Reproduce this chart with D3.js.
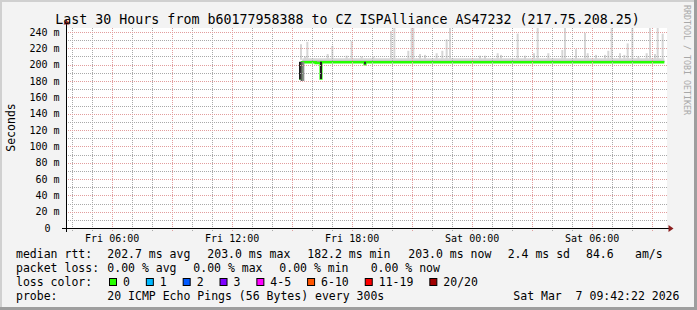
<!DOCTYPE html>
<html>
<head>
<meta charset="utf-8">
<script src="https://cdn.jsdelivr.net/npm/d3@7/dist/d3.min.js"></script>
<style>
html, body { margin: 0; padding: 0; background: #f3f3f3; }
svg { display: block; }
text { font-family: "DejaVu Sans Mono", monospace; }
</style>
</head>
<body>
<svg id="chart" width="697" height="310"></svg>
<script>
// SmokePing graph: 30 hours, median rtt + smoke
const titleText = "Last 30 Hours from b60177958388 to CZ ISPAlliance AS47232 (217.75.208.25)";
const windowStart = "2026-03-06 03:46";
const windowEnd = "2026-03-07 09:46";
const dataStart = "2026-03-06 15:32";
const dataEnd = "2026-03-07 09:38";

const xTickTimes = ["2026-03-06 06:00", "2026-03-06 12:00", "2026-03-06 18:00", "2026-03-07 00:00", "2026-03-07 06:00"];
const yTickValues = [0, 20, 40, 60, 80, 100, 120, 140, 160, 180, 200, 220, 240];

// median rtt (ms), step points
const medianTimes = ["2026-03-06 15:22", "2026-03-06 15:31", "2026-03-06 16:12", "2026-03-06 16:27", "2026-03-06 16:29",
  "2026-03-06 18:39", "2026-03-06 18:41", "2026-03-07 09:38"];
const medianValues = [183, 203, 202, 183, 203, 200.5, 203, 203];

// dark smoke where the pings spread below the median
const dipTimes = ["2026-03-06 15:25", "2026-03-06 15:30", "2026-03-06 15:35", "2026-03-06 16:28", "2026-03-06 18:40"];
const dipLows = [182, 180, 180, 182.5, 200.5];

// smoke band levels above the median (outer to inner)
const smokeBandLevels = [208, 206, 204.5];

// tall smoke spikes (max ping rtt, ms)
const spikeTimes = [
  "2026-03-06 15:28", "2026-03-06 15:40", "2026-03-06 15:47", "2026-03-06 16:48", "2026-03-06 17:02", "2026-03-06 17:45",
  "2026-03-06 18:00", "2026-03-06 18:30", "2026-03-06 19:05", "2026-03-06 19:58", "2026-03-06 20:08", "2026-03-06 20:50",
  "2026-03-06 21:00", "2026-03-06 21:05", "2026-03-06 21:25", "2026-03-06 21:40", "2026-03-06 22:15", "2026-03-06 22:32",
  "2026-03-06 22:45", "2026-03-06 22:55", "2026-03-07 00:25", "2026-03-07 00:40", "2026-03-07 01:18", "2026-03-07 01:28",
  "2026-03-07 02:18", "2026-03-07 02:40", "2026-03-07 03:07", "2026-03-07 03:18", "2026-03-07 03:50", "2026-03-07 04:32",
  "2026-03-07 04:40", "2026-03-07 05:13", "2026-03-07 05:40", "2026-03-07 05:48", "2026-03-07 06:13", "2026-03-07 06:40",
  "2026-03-07 06:50", "2026-03-07 07:00", "2026-03-07 07:25", "2026-03-07 07:38", "2026-03-07 07:48", "2026-03-07 08:02",
  "2026-03-07 08:20", "2026-03-07 08:45", "2026-03-07 08:55", "2026-03-07 09:10", "2026-03-07 09:18", "2026-03-07 09:33"];
const spikeValues = [
  225, 210, 228, 213, 223, 211,
  229, 210, 210, 241, 250, 217,
  250, 250, 213, 212, 214, 217,
  231, 250, 211, 211, 214, 212,
  238, 211, 214, 250, 214, 218,
  250, 219, 239, 214, 212, 212,
  217, 250, 214, 212, 226, 250,
  210, 214, 250, 213, 250, 238];

// legend figures
const rttStats = { avg: 202.7, max: 203.0, min: 182.2, now: 203.0, sd: 2.4, ams: 84.6 };
const lossStats = { avg: 0.00, max: 0.00, min: 0.00, now: 0.00 };
const lossLabels = ["0", "1", "2", "3", "4-5", "6-10", "11-19", "20/20"];
const lossColors = ["#26ff00", "#00b8ff", "#0059ff", "#7e00ff", "#ff00ff", "#ff5500", "#ff0000", "#a10000"];
const probeText = "20 ICMP Echo Pings (56 Bytes) every 300s";
const stampText = "Sat Mar  7 09:42:22 2026";

const parse = d3.timeParse("%Y-%m-%d %H:%M");
const W = 697, H = 310;
const plot = { left: 67, right: 667, top: 28, bottom: 228 };

const svg = d3.select("#chart");

// frame
svg.append("rect").attr("width", W).attr("height", H).attr("fill", "#f3f3f3");
svg.append("rect").attr("x", 0).attr("y", 0).attr("width", W).attr("height", 2).attr("fill", "#d0d0d0");
svg.append("rect").attr("x", 0).attr("y", 0).attr("width", 2).attr("height", H).attr("fill", "#d0d0d0");
svg.append("rect").attr("x", 0).attr("y", H - 3).attr("width", W).attr("height", 3).attr("fill", "#9e9e9e");
svg.append("rect").attr("x", W - 3).attr("y", 0).attr("width", 3).attr("height", H).attr("fill", "#9e9e9e");

const x = d3.scaleTime()
  .domain([parse(windowStart), parse(windowEnd)])
  .range([plot.left, plot.right]);
const y = d3.scaleLinear()
  .domain([0, 240 * 200 / 196])
  .range([plot.bottom, plot.top]);

svg.append("rect")
  .attr("x", plot.left).attr("y", plot.top)
  .attr("width", plot.right - plot.left).attr("height", plot.bottom - plot.top)
  .attr("fill", "#ffffff");

svg.append("clipPath").attr("id", "plotclip")
  .append("rect")
  .attr("x", plot.left).attr("y", plot.top)
  .attr("width", plot.right - plot.left).attr("height", plot.bottom - plot.top);

const data = svg.append("g").attr("clip-path", "url(#plotclip)");

// smoke band above median
const bandColors = ["#dcdcdc", "#c8c8c8", "#a4a4a4"];
const t0 = parse(dataStart), t1 = parse(dataEnd);
smokeBandLevels.forEach((lvl, i) => {
  data.append("rect")
    .attr("x", x(t0)).attr("width", x(t1) - x(t0))
    .attr("y", y(lvl)).attr("height", y(203) - y(lvl))
    .attr("fill", bandColors[i]);
});

// spikes
const spikes = spikeTimes.map((t, i) => ({ t: parse(t), v: spikeValues[i] }));
data.selectAll("rect.spike")
  .data(spikes)
  .join("rect")
  .attr("class", "spike")
  .attr("x", d => x(d.t) - 1)
  .attr("width", 2)
  .attr("y", d => y(d.v))
  .attr("height", d => y(206) - y(d.v))
  .attr("fill", "#d6d6d6");

// grid (drawn over the smoke, like rrdtool): 1px dots, every other pixel
const grid = svg.append("g").attr("shape-rendering", "crispEdges");
const minorCol = "#a9a9a9", majorCol = "#e29d9d";

const hDots = pos => {
  let p = "";
  for (let px = plot.left + 1; px < plot.right; px += 2) p += `M${px},${pos}h1v1h-1z`;
  return p;
};
const vDots = pos => {
  let p = "";
  for (let py = plot.top; py < plot.bottom + 3; py += 2) p += `M${pos},${py}h1v1h-1z`;
  return p;
};

const minorY = d3.range(10, 245, 20);
const majorY = d3.range(20, 245, 20);
const minorX = d3.timeHour.every(1).range(parse(windowStart), parse(windowEnd));
const majorX = d3.timeHour.every(3).range(parse(windowStart), parse(windowEnd));

grid.append("g").selectAll("path").data(minorX).join("path")
  .attr("d", d => vDots(Math.round(x(d)))).attr("fill", minorCol);
grid.append("g").selectAll("path").data(majorX).join("path")
  .attr("d", d => vDots(Math.round(x(d)))).attr("fill", majorCol);
grid.append("g").selectAll("path").data(minorY).join("path")
  .attr("d", d => hDots(Math.round(y(d)))).attr("fill", minorCol);
grid.append("g").selectAll("path").data(majorY).join("path")
  .attr("d", d => hDots(Math.round(y(d)))).attr("fill", majorCol);

// median line
const medianPts = medianTimes.map((t, i) => ({ t: parse(t), v: medianValues[i] }));
data.append("path")
  .datum(medianPts)
  .attr("fill", "none")
  .attr("stroke", lossColors[0])
  .attr("stroke-width", 2.5)
  .attr("d", d3.line().x(d => x(d.t)).y(d => y(d.v)).curve(d3.curveStepAfter));

// dark smoke dips, on top of the median steps
const dipShades = ["#1c1c1c", "#5a5a5a", "#8a8a8a", "#1c1c1c", "#2a2a2a"];
const dips = dipTimes.map((t, i) => ({ t: parse(t), lo: dipLows[i], shade: dipShades[i] }));
data.selectAll("rect.dip")
  .data(dips)
  .join("rect")
  .attr("class", "dip")
  .attr("x", d => x(d.t) - 1)
  .attr("width", 2)
  .attr("y", y(203.5))
  .attr("height", d => y(d.lo) - y(203.5))
  .attr("fill", d => d.shade);

// axes
const yAxis = svg.append("g")
  .attr("transform", `translate(${plot.left},0)`)
  .call(d3.axisLeft(y).tickValues(yTickValues).tickSize(0).tickPadding(7.5)
    .tickFormat(d => d === 0 ? "0" : d + " m"));
yAxis.select(".domain").remove();
yAxis.selectAll("text")
  .attr("font-family", "DejaVu Sans Mono, monospace")
  .attr("font-size", 10).attr("fill", "#000")
  .filter(d => d === 0).attr("x", -16.5);

const xAxis = svg.append("g")
  .attr("transform", `translate(0,${plot.bottom})`)
  .call(d3.axisBottom(x).tickValues(xTickTimes.map(parse)).tickSize(0).tickPadding(6.5)
    .tickFormat(d3.timeFormat("%a %H:%M")));
xAxis.select(".domain").remove();
xAxis.selectAll("text")
  .attr("font-family", "DejaVu Sans Mono, monospace")
  .attr("font-size", 10).attr("fill", "#000");

// axis lines with arrows
svg.append("line").attr("x1", 62).attr("x2", 669).attr("y1", plot.bottom + 0.5).attr("y2", plot.bottom + 0.5)
  .attr("stroke", "#000");
svg.append("line").attr("x1", plot.left - 0.5).attr("x2", plot.left - 0.5).attr("y1", 232).attr("y2", 23)
  .attr("stroke", "#000");
svg.append("path").attr("d", "M668.5,225 L673.5,228.5 L668.5,232 Z").attr("fill", "#8b1f1f");
svg.append("path").attr("d", "M63.5,24.5 L66.5,19.5 L69.5,24.5 Z").attr("fill", "#8b1f1f");

// title and side labels
svg.append("text").attr("x", 347.5).attr("y", 24).attr("text-anchor", "middle")
  .attr("font-size", 13.3).attr("fill", "#000").text(titleText);
svg.append("text").attr("transform", "translate(14.5,127.5) rotate(-90)").attr("text-anchor", "middle")
  .attr("font-size", 11.5).attr("fill", "#000").text("Seconds");
svg.append("text").attr("transform", "translate(684,5) rotate(90)")
  .attr("font-size", 8.3).attr("fill", "#a8a8a8").text("RRDTOOL / TOBI OETIKER");

// legend
const f1 = d3.format(".1f"), f2 = d3.format(".2f");
const legendRows = [
  { y: 258.3, items: [[16, "median rtt:"], [107.3, `${f1(rttStats.avg)} ms avg`], [207.3, `${f1(rttStats.max)} ms max`],
      [307.3, `${f1(rttStats.min)} ms min`], [408.3, `${f1(rttStats.now)} ms now`], [507.7, `${f1(rttStats.sd)} ms sd`],
      [586, f1(rttStats.ams)], [635, "am/s"]] },
  { y: 272, items: [[16, "packet loss:"], [107.3, `${f2(lossStats.avg)} % avg`], [193.3, `${f2(lossStats.max)} % max`],
      [279.3, `${f2(lossStats.min)} % min`], [370.7, `${f2(lossStats.now)} % now`]] },
  { y: 285.8, items: [[16, "loss color:"]] },
  { y: 299.5, items: [[16, "probe:"], [107.3, probeText], [513.3, stampText]] }
];
const legend = svg.append("g").attr("font-size", 11.5).attr("fill", "#000");
legendRows.forEach(row => {
  row.items.forEach(([lx, s]) => {
    legend.append("text").attr("x", lx).attr("y", row.y).attr("xml:space", "preserve").text(s);
  });
});

const charW = 6.94;
let bx = 109;
lossLabels.forEach((lab, i) => {
  legend.append("rect").attr("x", bx + 0.5).attr("y", 278.5).attr("width", 7).attr("height", 7)
    .attr("fill", lossColors[i]).attr("stroke", "#000").attr("stroke-width", 1);
  legend.append("text").attr("x", bx + 14).attr("y", 285.8).text(lab);
  bx = bx + 14 + lab.length * charW + 15.9;
});
</script>
</body>
</html>
